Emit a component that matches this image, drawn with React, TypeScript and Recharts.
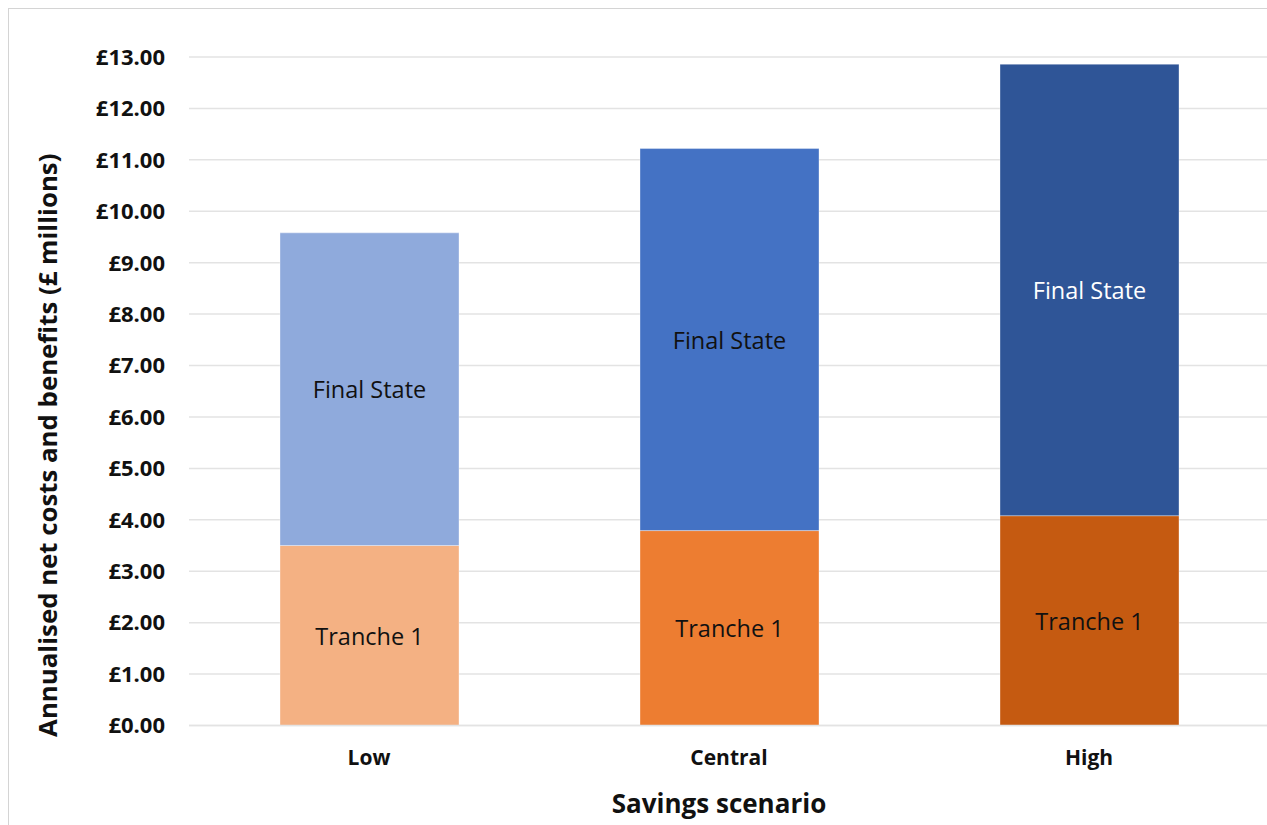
import React from 'react';
import { BarChart, Bar, XAxis, YAxis, CartesianGrid, Cell, LabelList } from 'recharts';

const categories = ['Low', 'Central', 'High'];
const tranche1 = [3.5, 3.79, 4.08];
const finalState = [6.08, 7.43, 8.78];
const yTicks = [0, 1, 2, 3, 4, 5, 6, 7, 8, 9, 10, 11, 12, 13];

const trancheColors = ['#F4B183', '#ED7D31', '#C55A11'];
const finalColors = ['#8FAADC', '#4472C4', '#2F5597'];
const trancheLabelColors = ['#111111', '#111111', '#111111'];
const finalLabelColors = ['#111111', '#111111', '#ffffff'];

const data = categories.map((c, i) => ({
  name: c,
  tranche1: tranche1[i],
  finalState: finalState[i],
}));

const FONT = '"Open Sans", "Noto Sans", sans-serif';

const makeLabel = (text: string, colors: string[]) => (props: any) => {
  const { x, y, width, height, index } = props;
  return (
    <text
      x={x + width / 2}
      y={y + height / 2}
      textAnchor="middle"
      dominantBaseline="central"
      fontFamily={FONT}
      fontSize={23.5}
      fill={colors[index]}
    >
      {text}
    </text>
  );
};

const YTitle = (props: any) => {
  const { viewBox } = props;
  const cx = 47;
  const cy = viewBox.y + viewBox.height / 2 + 54;
  return (
    <text
      x={cx}
      y={cy}
      transform={`rotate(-90, ${cx}, ${cy})`}
      textAnchor="middle"
      dominantBaseline="central"
      fontFamily={FONT}
      fontWeight="bold"
      fontSize={25.8}
      fill="#111111"
    >
      Annualised net costs and benefits (£ millions)
    </text>
  );
};

const XTitle = (props: any) => {
  const { viewBox } = props;
  const cx = viewBox.x + viewBox.width / 2 - 10;
  return (
    <text
      x={cx}
      y={813}
      textAnchor="middle"
      fontFamily={FONT}
      fontWeight="bold"
      fontSize={26}
      fill="#111111"
    >
      Savings scenario
    </text>
  );
};

export default function App() {
  return (
    <div
      style={{
        position: 'absolute',
        left: 0,
        top: 0,
        width: 1267,
        height: 825,
        overflow: 'hidden',
        background: '#ffffff',
      }}
    >
      <div
        style={{
          position: 'absolute',
          left: 8,
          top: 8,
          width: 1400,
          height: 900,
          borderLeft: '1px solid #d4d4d4',
          borderTop: '1px solid #d4d4d4',
        }}
      />
      <div style={{ position: 'absolute', left: 0, top: 0 }}>
        <BarChart
          width={1270}
          height={825}
          data={data}
          margin={{ top: 57, right: 1, bottom: 0, left: 0 }}
          barSize={179}
        >
          <CartesianGrid vertical={false} stroke="#e3e3e3" strokeWidth={1.5} />
          <XAxis
            dataKey="name"
            height={99.5}
            tickLine={false}
            tickSize={0}
            tickMargin={25}
            axisLine={{ stroke: '#e3e3e3', strokeWidth: 1.5 }}
            tick={{ fontFamily: FONT, fontWeight: 'bold', fontSize: 21, fill: '#111111' }}
            label={<XTitle />}
          />
          <YAxis
            width={189}
            domain={[0, 13]}
            ticks={yTicks}
            interval={0}
            axisLine={false}
            tickLine={false}
            tickSize={0}
            tickMargin={24}
            tickFormatter={(v: number) => `£${v.toFixed(2)}`}
            tick={{ fontFamily: FONT, fontWeight: 'bold', fontSize: 22, fill: '#111111' }}
            label={<YTitle />}
          />
          <Bar dataKey="tranche1" stackId="a" isAnimationActive={false} stroke="#ffffff" strokeOpacity={0.35} strokeWidth={1}>
            {data.map((_, i) => (
              <Cell key={`t-${i}`} fill={trancheColors[i]} />
            ))}
            <LabelList dataKey="tranche1" content={makeLabel('Tranche 1', trancheLabelColors)} />
          </Bar>
          <Bar dataKey="finalState" stackId="a" isAnimationActive={false} stroke="#ffffff" strokeOpacity={0.35} strokeWidth={1}>
            {data.map((_, i) => (
              <Cell key={`f-${i}`} fill={finalColors[i]} />
            ))}
            <LabelList dataKey="finalState" content={makeLabel('Final State', finalLabelColors)} />
          </Bar>
        </BarChart>
      </div>
    </div>
  );
}
